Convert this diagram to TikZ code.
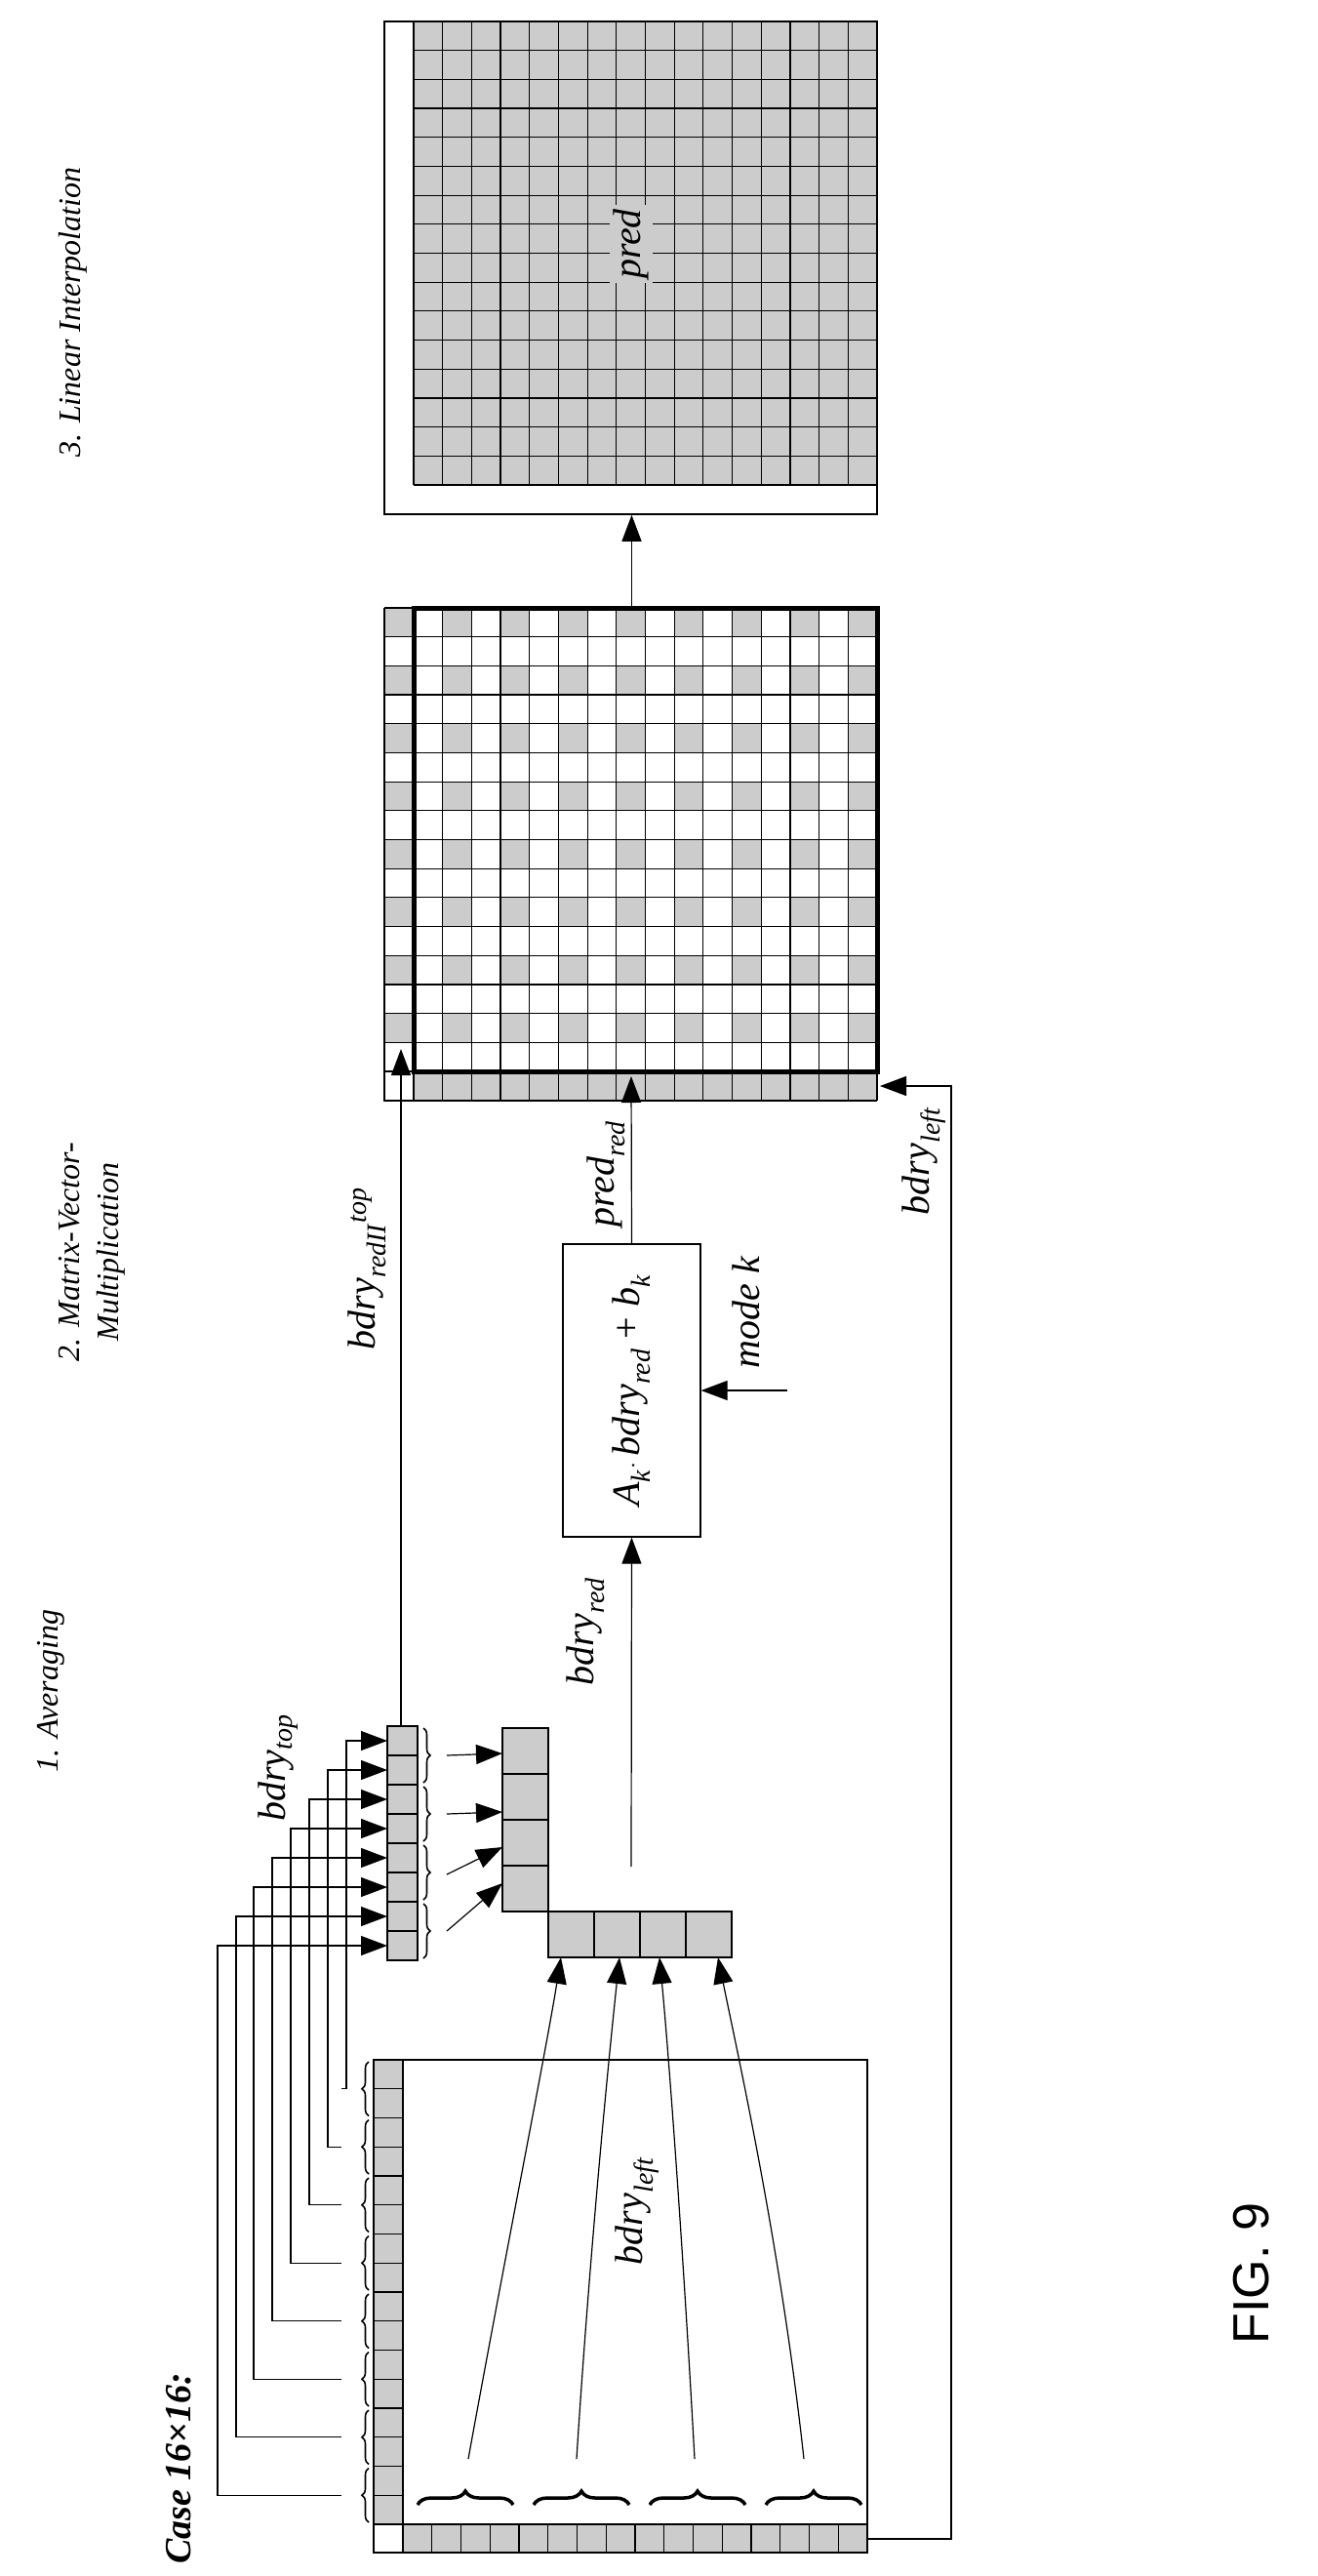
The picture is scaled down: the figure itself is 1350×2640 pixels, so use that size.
\documentclass[tikz,border=0pt]{standalone}
\usepackage{fontspec}
\setmainfont{Liberation Serif}
\newfontfamily\figfont{Liberation Sans}
\usetikzlibrary{arrows.meta,decorations.pathreplacing}
\newcommand\sbs[2]{\textit{#1}\textsubscript{\textit{#2}}}
\begin{document}
\begin{tikzpicture}[x=1pt,y=-1pt,
  thin line/.style={line width=1.2pt},
  gcell/.style={fill=gray!40},
  bigarrow/.style={line width=1.2pt,-{Triangle[length=27pt,width=20pt]}},
  lbl/.style={rotate=90,font=\fontsize{40}{44}\selectfont,inner sep=2pt},
  steplbl/.style={rotate=90,font=\fontsize{32}{40}\selectfont\itshape,inner sep=0pt},
  brc/.style={decorate,line width=1.6pt},
]
\useasboundingbox (0,0) rectangle (1350,2640);
\def\cc{29.6875}
\def\cb{29.75}
% ================= final grid =================
\fill[gcell] (424,22) rectangle (899,497);
\foreach \k in {0,...,16}{
  \draw[thin line] ({424+\k*\cc},22) -- ({424+\k*\cc},497);
  \draw[thin line] (424,{22+\k*\cc}) -- (899,{22+\k*\cc});
}
\node[draw,line width=1.5pt,minimum width=505pt,minimum height=505pt,inner sep=0pt] (final) at (646.5,274.5) {};
\draw[line width=2.5pt] (394,527) -- (899,527);
\node[lbl,fill=gray!40,inner sep=4pt] (predlbl) at (647,250) {\textit{pred}};
% ================= middle grid =================
\foreach \r in {0,2,...,14}{
  \fill[gcell] (394,{623+\r*\cc}) rectangle (424,{623+(\r+1)*\cc});
  \foreach \k in {1,3,...,15}
    \fill[gcell] ({424+\k*\cc},{623+\r*\cc}) rectangle ({424+(\k+1)*\cc},{623+(\r+1)*\cc});
}
\fill[gcell] (424,1098) rectangle (899,1128);
\foreach \k in {0,...,16}{
  \draw[thin line] ({424+\k*\cc},623) -- ({424+\k*\cc},1128);
  \draw[thin line] (394,{623+\k*\cc}) -- (899,{623+\k*\cc});
}
\draw[thin line] (394,623) -- (394,1128) -- (899,1128);
\node[draw,line width=5pt,minimum width=475pt,minimum height=475pt,inner sep=0pt] (mid) at (661.5,860.5) {};
\coordinate (midcorner) at (409,1128);
% ================= matrix box =================
\node[draw,thin line,minimum width=141pt,minimum height=300pt,inner sep=0pt] (box) at (647.5,1425) {};
\node[lbl] (boxtxt) at (647,1425) {\textit{A}\textsubscript{\textit{k}}$\cdot$\,\sbs{bdry}{red} + \textit{b}\textsubscript{\textit{k}}};
\draw[bigarrow] (box.north) -- (647,1103);
\node[lbl] (predred) at (621,1203) {\sbs{pred}{red}};
\coordinate (modes) at (807,1425);
\draw[bigarrow] (modes) -- (box.east |- modes);
\node[lbl] (modek) at (765,1345) {\textit{mode k}};
\draw[bigarrow] (mid.north -| box) -- (final.south -| box);
% ================= 8-cell column =================
\foreach \k in {0,...,7}
  \draw[thin line,gcell] (397,{1769+\k*30}) rectangle (428,{1799+\k*30});
\node[inner sep=0pt,minimum width=31pt,minimum height=240pt] (col8) at (412.5,1889) {};
\draw[bigarrow] (411,1769) -- (411,1075);
\node[lbl] (redII) at (376,1300) {\textit{bdry}\textsubscript{\textit{redII}}\textsuperscript{\textit{top}}};
\node[lbl] (bdrytop) at (285,1812) {\sbs{bdry}{top}};
% braces right of col8
\foreach \k in {0,...,3}
  \draw[brc,decoration={brace,amplitude=7pt}] (434,{1771+\k*60}) -- (434,{1827+\k*60});
% ================= 4-cell column & row =================
\foreach \k in {0,...,3}
  \draw[thin line,gcell] (515,{1771+\k*47}) rectangle (562,{1818+\k*47});
\foreach \k in {0,...,3}
  \draw[thin line,gcell] ({562+\k*47},1959) rectangle ({609+\k*47},2006);
\node[inner sep=0pt,minimum width=47pt,minimum height=188pt] (col4) at (538.5,1865) {};
\node[inner sep=0pt,minimum width=188pt,minimum height=47pt] (row4) at (656,1982.5) {};
\draw[bigarrow] (458,1799) -- (515,1797);
\draw[bigarrow] (458,1859) -- (515,1857);
\draw[bigarrow] (458,1921) -- (515,1893);
\draw[bigarrow] (458,1979) -- (515,1930);
\draw[bigarrow] (647,1913) -- (box.south);
\node[lbl] (bdryred) at (600,1672) {\sbs{bdry}{red}};
% ================= left block =================
\node[draw,thin line,minimum width=506pt,minimum height=505pt,inner sep=0pt] (block) at (636,2363.5) {};
\foreach \k in {0,...,15}{
  \draw[thin line,gcell] (383,{2111+\k*\cb}) rectangle (413,{2111+(\k+1)*\cb});
  \draw[thin line,gcell] ({413+\k*\cb},2587) rectangle ({413+(\k+1)*\cb},2616);
}
\draw[thin line] (383,2587) rectangle (413,2616);
\node[lbl] (bdryleftin) at (653,2266) {\sbs{bdry}{left}};
% braces left of column + staircase
\foreach \k/\xv in {0/355,1/336,2/317,3/298,4/279,5/260,6/242,7/223}{
  \draw[brc,decoration={brace,amplitude=7pt}] (378,{2111+(2*\k+2)*\cb-2}) -- (378,{2111+2*\k*\cb+2});
  \draw[bigarrow] (350,{2111+(2*\k+1)*\cb}) -- (\xv,{2111+(2*\k+1)*\cb}) -- (\xv,{1784+\k*30}) -- (397,{1784+\k*30});
}
% big braces at bottom
\foreach \k/\sx/\tx in {0/480/575,1/591/635,2/712/676,3/824/736}{
  \draw[decorate,line width=3.5pt,decoration={brace,amplitude=14pt}] ({428+\k*119},2567) -- ({526+\k*119},2567);
}
\draw[bigarrow] (480,2520) .. controls (520,2300) and (560,2100) .. (575,2006);
\draw[bigarrow] (591,2520) .. controls (605,2300) and (625,2100) .. (635,2006);
\draw[bigarrow] (712,2520) .. controls (700,2300) and (685,2100) .. (676,2006);
\draw[bigarrow] (824,2520) .. controls (800,2300) and (755,2100) .. (736,2006);
% bdry_left return
\coordinate (rt) at (975,2602);
\draw[bigarrow] (889,2602) -- (rt) -- (975,1113) -- (902,1113);
\node[lbl] (bdryleft) at (947,1190) {\sbs{bdry}{left}};
% ================= titles =================
\node[steplbl] (s1) at (52,1733) {1. Averaging};
\node[steplbl,align=center] (s2) at (94,1283) {2. Matrix-Vector-\\Multiplication};
\node[steplbl] (s3) at (75,320) {3. Linear Interpolation};
\node[rotate=90,font=\fontsize{38}{44}\selectfont\bfseries\itshape] (case) at (183,2530) {Case 16×16:};
\node[rotate=90,font=\fontsize{52}{60}\selectfont\figfont] (fig) at (1283,2330) {FIG. 9};
\end{tikzpicture}
\end{document}
